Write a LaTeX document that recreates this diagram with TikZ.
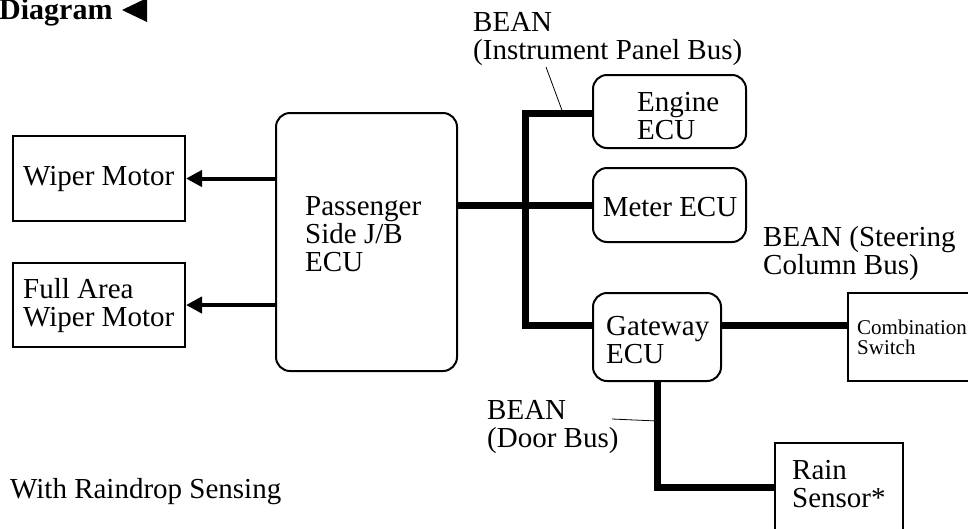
\documentclass[tikz,border=0pt]{standalone}
\usepackage{fontspec}
\setmainfont{Liberation Serif}
\usetikzlibrary{arrows.meta}
\begin{document}
\begin{tikzpicture}[x=1pt,y=-1pt,
  box/.style={draw, line width=2pt, inner sep=0pt},
  rbox/.style={box, rounded corners=14pt},
  txt/.style={inner sep=0pt, align=left, anchor=west, font=\fontsize{29}{28}\selectfont},
  smalltxt/.style={txt, font=\fontsize{21}{20}\selectfont},
  bus/.style={line width=7pt},
  arr/.style={line width=4pt, -{Triangle[length=16pt,width=16pt]}},
  leader/.style={line width=0.8pt}]
\clip (0,0) rectangle (968,528);
\useasboundingbox (0,0) rectangle (968,528);

% boxes
\node[box, minimum width=172, minimum height=85] (wiper) at (99,178.5) {};
\node[box, minimum width=172, minimum height=84] (fullarea) at (99,305) {};
\node[rbox, minimum width=181, minimum height=258] (pass) at (366.5,242) {};
\node[rbox, minimum width=153, minimum height=73] (engine) at (669.5,111.5) {};
\node[rbox, minimum width=153, minimum height=74] (meter) at (669.5,205) {};
\node[rbox, minimum width=128, minimum height=88] (gateway) at (657,337) {};
\node[box, minimum width=152, minimum height=88] (combo) at (924,337) {};
\node[box, minimum width=128, minimum height=117] (rain) at (839,501.5) {};

% texts
\node[txt] (wiperT) at (23,179) {Wiper Motor};
\node[txt] (fullT) at (23,306) {Full Area\\Wiper Motor};
\node[txt] (passT) at (305,234.5) {Passenger\\Side J/B\\ECU};
\node[txt] (engineT) at (637,116) {Engine\\ECU};
\node[txt, anchor=center] (meterT) at (670,207) {Meter ECU};
\node[txt] (gatewayT) at (606,340) {Gateway\\ECU};
\node[smalltxt] (comboT) at (857,337) {Combination\\Switch};
\node[txt] (rainT) at (792,484) {Rain\\Sensor*};
\node[txt] (beanIP) at (473,39) {BEAN\\(Instrument Panel Bus)};
\node[txt] (beanSC) at (763,254) {BEAN (Steering\\Column Bus)};
\node[txt] (beanDB) at (487,427.5) {BEAN\\(Door Bus)};
\node[txt] (note) at (10,492) {With Raindrop Sensing};
\node[inner sep=0pt, anchor=base west, font=\fontsize{30}{30}\selectfont\bfseries] (title) at (-1,19) {Diagram};
\fill (122,10) -- (147,-2) -- (147,22) -- cycle;

% arrows to motors
\draw[arr] (pass.west |- wiper.east) -- (wiper.east);
\draw[arr] (pass.west |- fullarea.east) -- (fullarea.east);

% buses
\coordinate (jTop) at (525,113);
\coordinate (jBot) at (525,325);
\draw[bus] (pass.east |- meter.west) -- (meter.west);
\draw[bus] ([yshift=-1.5pt]engine.west) -- (jTop) -- (jBot) -- ([yshift=12pt]gateway.west);
\draw[bus] ([yshift=12pt]gateway.east) -- ([yshift=12pt]combo.west);
\draw[bus] (gateway.south) |- ([yshift=14.5pt]rain.west);

% leaders
\coordinate (ipA) at (546,67);
\coordinate (ipB) at (563,113);
\coordinate (dbA) at (612,419);
\coordinate (dbB) at (657,421);
\draw[leader] (ipA) -- (ipB);
\draw[leader] (dbA) -- (dbB);
\end{tikzpicture}
\end{document}
